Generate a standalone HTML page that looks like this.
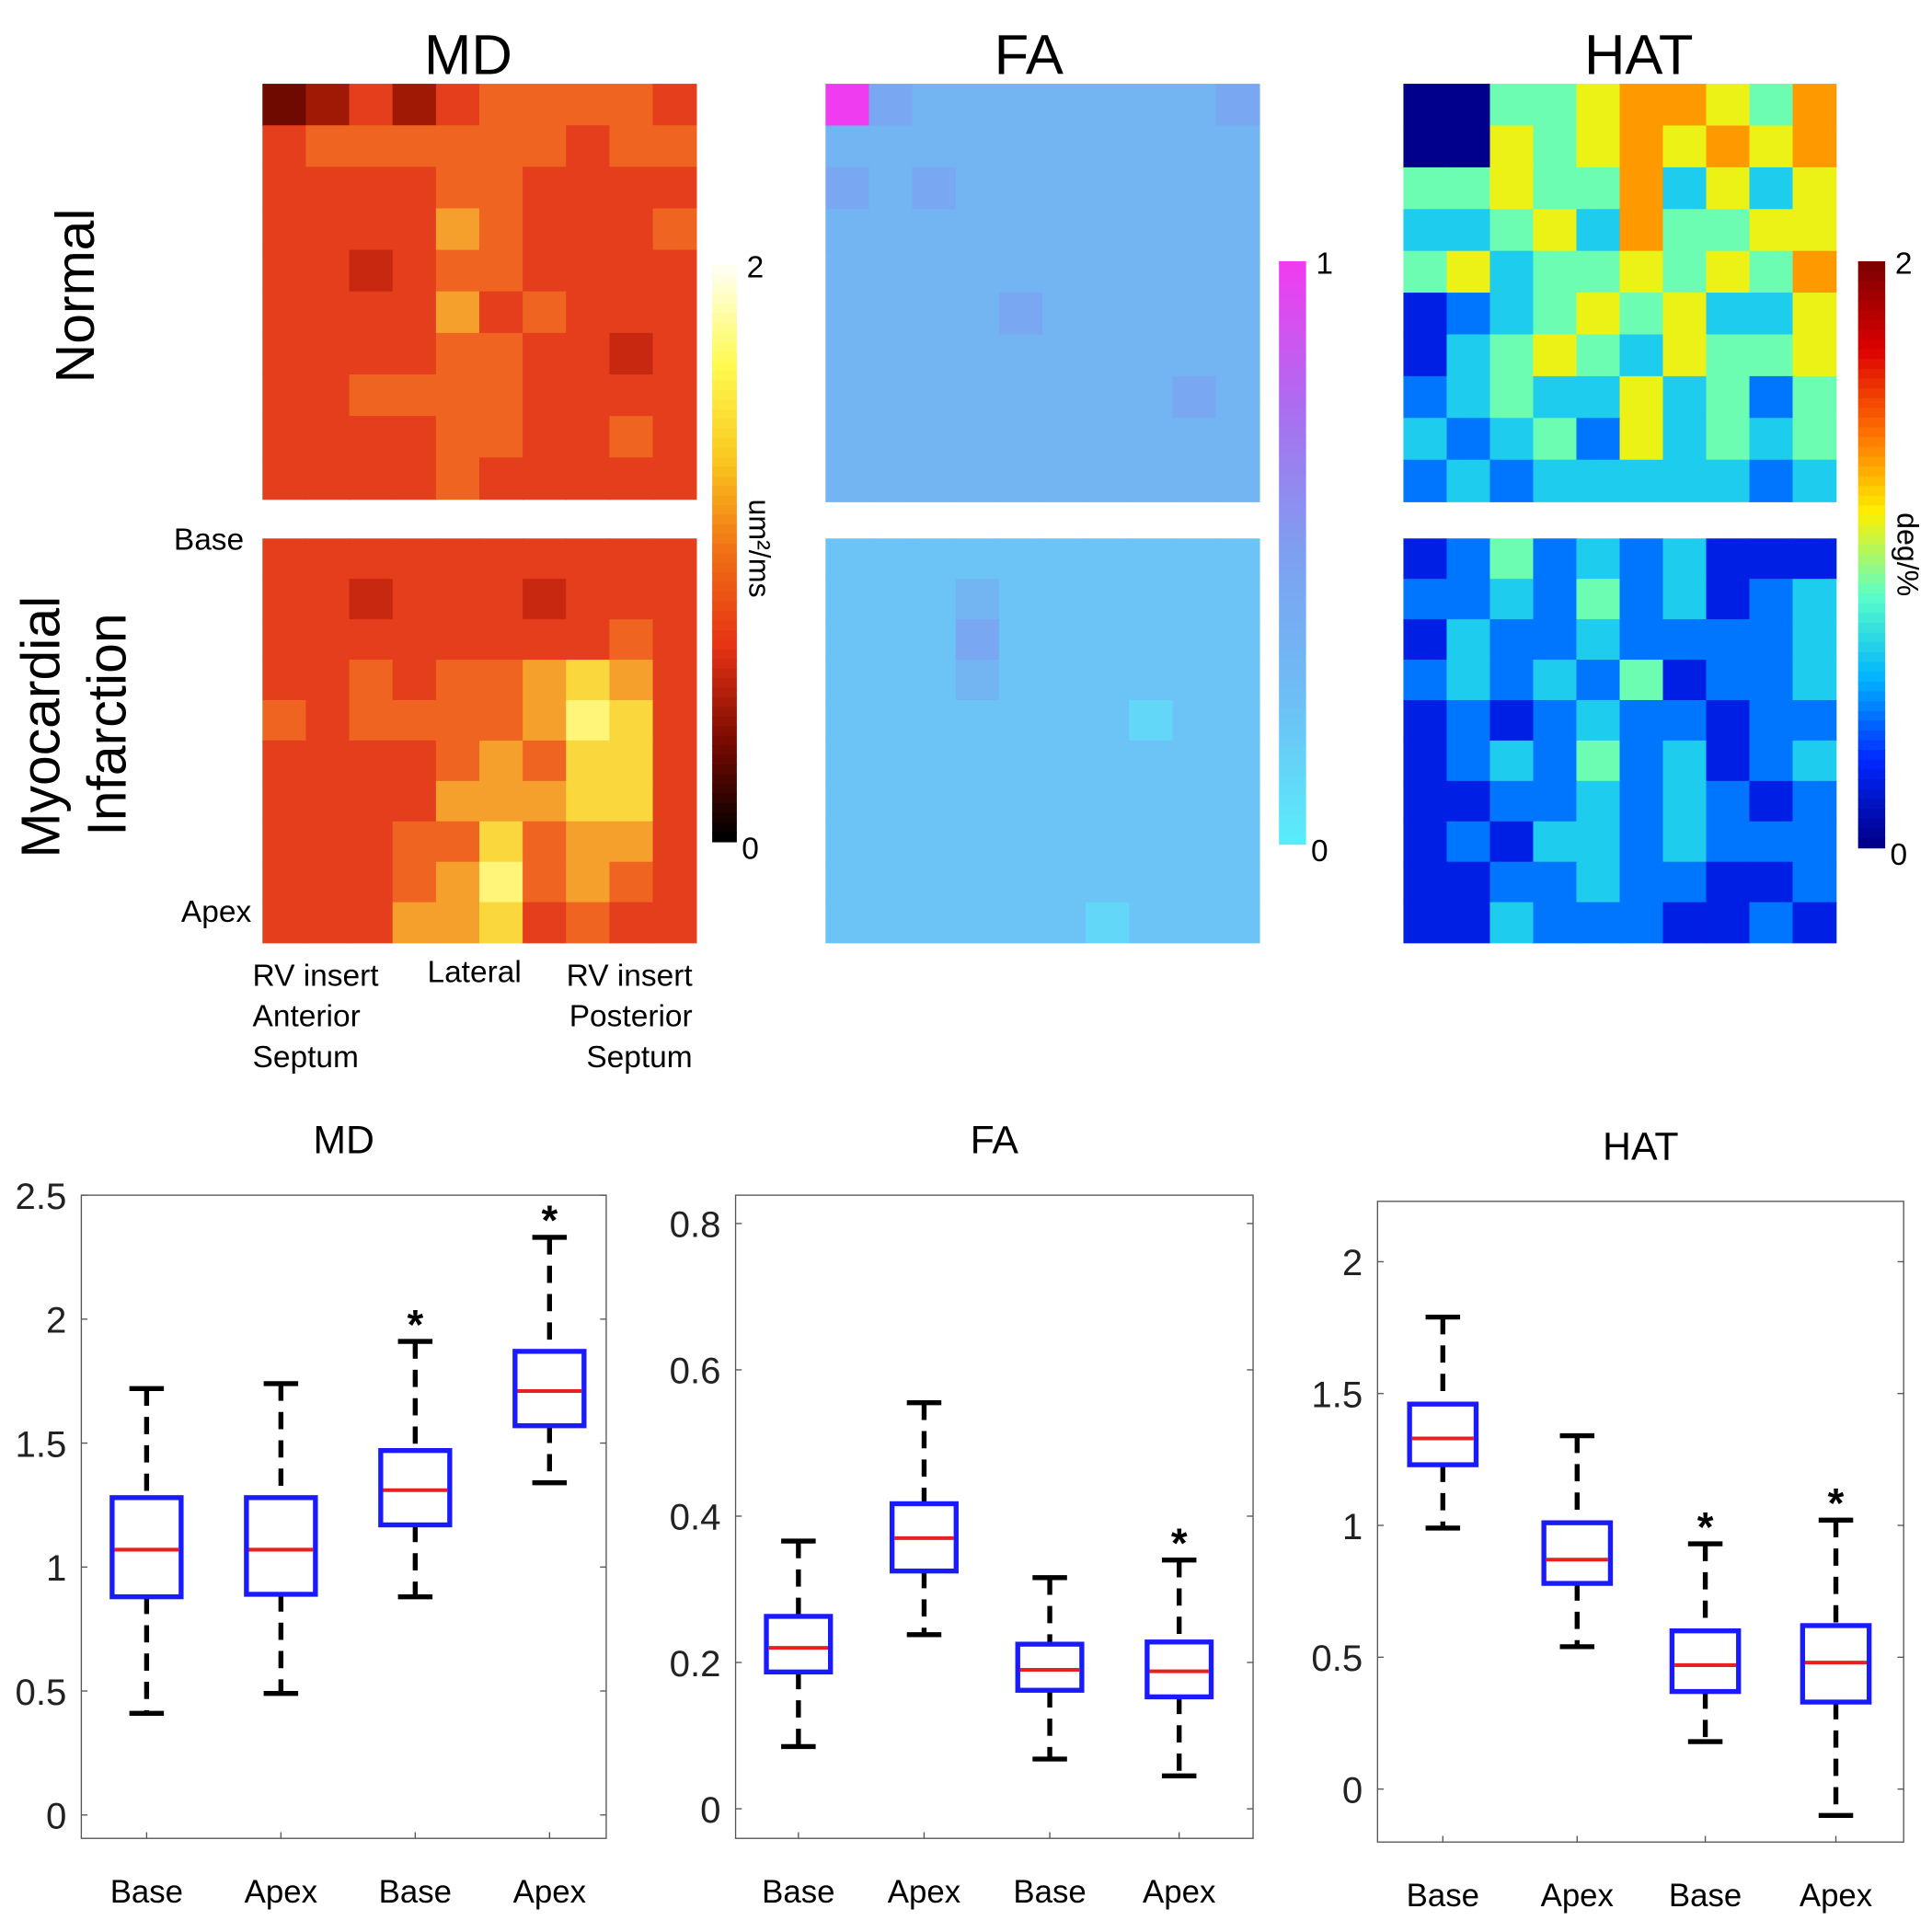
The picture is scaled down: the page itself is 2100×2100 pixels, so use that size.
<!DOCTYPE html>
<html><head><meta charset="utf-8">
<style>
html,body{margin:0;padding:0;background:#fff;}
svg{display:block;font-family:"Liberation Sans",Arial,sans-serif;}
</style></head>
<body>
<svg id="fig" width="2100" height="2100" viewBox="0 0 1568 1568" xmlns="http://www.w3.org/2000/svg">
<g id="maps"></g>
<g id="bars"></g>
<g id="box"></g>
<g fill="#000">
<text x="380" y="60" font-size="46" text-anchor="middle">MD</text>
<text x="835" y="60" font-size="46" text-anchor="middle">FA</text>
<text x="1330" y="60" font-size="46" text-anchor="middle">HAT</text>
<text transform="translate(76,240) rotate(-90)" font-size="44" text-anchor="middle">Normal</text>
<text transform="translate(48,590) rotate(-90)" font-size="44" text-anchor="middle">Myocardial</text>
<text transform="translate(102,588) rotate(-90)" font-size="44" text-anchor="middle">Infarction</text>
<text x="198" y="446" font-size="25" text-anchor="end">Base</text>
<text x="204" y="748" font-size="25" text-anchor="end">Apex</text>
<text font-size="25"><tspan x="205" y="800">RV insert</tspan><tspan x="205" y="833">Anterior</tspan><tspan x="205" y="866">Septum</tspan></text>
<text x="385" y="797" font-size="25" text-anchor="middle">Lateral</text>
<text font-size="25" text-anchor="end"><tspan x="562" y="800">RV insert</tspan><tspan x="562" y="833">Posterior</tspan><tspan x="562" y="866">Septum</tspan></text>
<text transform="translate(608,445) rotate(90)" font-size="24" text-anchor="middle">um²/ms</text>
<text transform="translate(1540,450) rotate(90)" font-size="24" text-anchor="middle">deg/%</text>
</g>
</svg>
<script>
// ---- heatmap data (coarse, 0..9 per cell) ----
const mdNormal=["2353566665","5666666566","5555665555","5555765556","5545665555","5555756555","5555665545","5566665555","5555665565","5555655555"];
const mdMI=["5555555555","5545554555","5555555565","5565667875","6566667985","5555676885","5555777885","5556686775","5556796765","5557785655"];
const faNormal=["9433333334","3333333333","4343333333","3333333333","3333333333","3333433333","3333333333","3333333343","3333333333","3333333333"];
const faMI=["2222222222","2223222222","2224222222","2223222222","2222222122","2222222222","2222222222","2222222222","2222222222","2222221222"];
const hatNormal=["0044566546","0054565656","4454463535","3345364455","4534454546","1234545335","1345435445","2343353424","3234253434","2323333323"];
const hatMI=["1242323111","2232423123","1322322223","2323241223","1212322122","1232423123","1122323212","1213323222","1122322112","1132221121"];
const mdTicks=[0,0.5,1,1.5,2,2.5];
const faTicks=[0,0.2,0.4,0.6,0.8];
const hatTicks=[0,0.5,1,1.5,2];
const xCats=["Base","Apex","Base","Apex"];
// box stats: max, q3, median, q1, min
const mdMax=[1.72,1.74,1.91,2.33], mdQ3=[1.28,1.28,1.47,1.87], mdMed=[1.07,1.07,1.31,1.71], mdQ1=[0.88,0.89,1.17,1.57], mdMin=[0.41,0.49,0.88,1.34];
const faMax=[0.366,0.555,0.316,0.34], faQ3=[0.263,0.417,0.225,0.228], faMed=[0.22,0.37,0.19,0.188], faQ1=[0.187,0.325,0.162,0.153], faMin=[0.085,0.238,0.068,0.045];
const hatMax=[1.79,1.34,0.93,1.02], hatQ3=[1.46,1.01,0.6,0.62], hatMed=[1.33,0.87,0.47,0.48], hatQ1=[1.23,0.78,0.37,0.33], hatMin=[0.99,0.54,0.18,-0.1];
const mdStars=[0,0,1,1], faStars=[0,0,0,1], hatStars=[0,0,1,1];

const NS="http://www.w3.org/2000/svg";
function mk(parent,tag,attrs){const e=document.createElementNS(NS,tag);for(const k in attrs)e.setAttribute(k,attrs[k]);parent.appendChild(e);return e;}
function lerp(a,b,t){return a.map((v,i)=>Math.round(v+(b[i]-v)*t));}
function ramp(stops,t){t=Math.max(0,Math.min(1,t));const n=stops.length-1;const i=Math.min(n-1,Math.floor(t*n));return lerp(stops[i],stops[i+1],t*n-i);}
const hot=t=>ramp([[0,0,0],[120,10,0],[230,50,20],[240,110,20],[250,200,30],[255,250,80],[255,255,240]],t);
const mdMap=t=>ramp([[0,0,0],[60,0,0],[110,10,0],[160,25,5],[200,40,15],[228,62,28],[238,100,32],[245,160,45],[250,215,60],[255,245,120]],t);
const cool=t=>ramp([[90,235,250],[110,190,245],[125,160,240],[170,110,240],[240,60,240]],t);
const jet=t=>ramp([[0,0,140],[0,40,255],[0,180,255],[90,255,200],[255,240,0],[255,110,0],[220,0,0],[128,0,0]],t);
const rgb=c=>`rgb(${c[0]},${c[1]},${c[2]})`;

const maps=document.getElementById('maps');
function heat(rows,cm,x,y,w,h,name){
  const g=mk(maps,'g',{});
  
  
  const nr=rows.length,nc=rows[0].length;
  rows.forEach((r,i)=>{[...r].forEach((ch,j)=>{
    const c=mk(g,'rect',{x:x+j*w/nc,y:y+i*h/nr,width:w/nc+0.6,height:h/nr+0.6,fill:rgb(cm(+ch/9))});
    
    
  });});
}
heat(mdNormal,mdMap,213,68,352,337,'md-normal-map');
heat(mdMI,mdMap,213,437,352,328,'md-mi-map');
heat(faNormal,cool,670,68,352,339,'fa-normal-map');
heat(faMI,cool,670,437,352,328,'fa-mi-map');
heat(hatNormal,jet,1139,68,351,339,'hat-normal-map');
heat(hatMI,jet,1139,437,351,328,'hat-mi-map');

const bars=document.getElementById('bars');
function cbar(cm,x,y,w,h,top,bot,name){
  const g=mk(bars,'g',{});
  
  
  const n=60;
  for(let i=0;i<n;i++){mk(g,'rect',{x:x,y:y+i*h/n,width:w,height:h/n+0.6,fill:rgb(cm(1-i/(n-1)))});}
  const t1=mk(g,'text',{x:x+w+8,y:y+10,'font-size':25});t1.textContent=top;
  const t2=mk(g,'text',{x:x+w+4,y:y+h+14,'font-size':25});t2.textContent=bot;
}
cbar(hot,578,215,20,468,'2','0','md-colorbar');
cbar(cool,1038,212,22,473,'1','0','fa-colorbar');
cbar(jet,1508,212,22,476,'2','0','hat-colorbar');

const box=document.getElementById('box');
function boxplot(o){
  const g=mk(box,'g',{});
  
  
  const Y=v=>o.y0+(v-o.v0)*(o.y1-o.y0)/(o.v1-o.v0);
  const frame=mk(g,'rect',{x:o.L,y:o.T,width:o.R-o.L,height:o.B-o.T,fill:'none',stroke:'#555','stroke-width':1});
  
  
  const tt=mk(g,'text',{x:(o.L+o.R)/2,y:o.T-34,'font-size':32,'text-anchor':'middle'});tt.textContent=o.title;
  o.ticks.forEach(t=>{const y=Y(t);
    mk(g,'line',{x1:o.L,x2:o.L+5,y1:y,y2:y,stroke:'#555'});
    mk(g,'line',{x1:o.R,x2:o.R-5,y1:y,y2:y,stroke:'#555'});
    const l=mk(g,'text',{x:o.L-12,y:y+11,'font-size':30,'text-anchor':'end',fill:'#222'});l.textContent=String(t);
    
    
  });
  o.xs.forEach((x,i)=>{
    mk(g,'line',{x1:x,x2:x,y1:o.B,y2:o.B-5,stroke:'#555'});
    const l=mk(g,'text',{x:x,y:o.B+52,'font-size':26,'text-anchor':'middle'});l.textContent=xCats[i];
    
    
    const w=o.bw/2;
    const wk=mk(g,'path',{d:`M${x},${Y(o.max[i])}V${Y(o.q3[i])}M${x},${Y(o.q1[i])}V${Y(o.min[i])}`,stroke:'#000','stroke-width':4,'stroke-dasharray':'14,9',fill:'none'});
    
    
    mk(g,'line',{x1:x-14,x2:x+14,y1:Y(o.max[i]),y2:Y(o.max[i]),stroke:'#000','stroke-width':4});
    mk(g,'line',{x1:x-14,x2:x+14,y1:Y(o.min[i]),y2:Y(o.min[i]),stroke:'#000','stroke-width':4});
    const b=mk(g,'rect',{x:x-w,y:Y(o.q3[i]),width:o.bw,height:Y(o.q1[i])-Y(o.q3[i]),fill:'none',stroke:'#1a1aff','stroke-width':4});
    
    
    const m=mk(g,'line',{x1:x-w+2,x2:x+w-2,y1:Y(o.med[i]),y2:Y(o.med[i]),stroke:'#e82020','stroke-width':3});
    
    
    if(o.stars[i]){const s=mk(g,'text',{x:x,y:Y(o.max[i])-2,'font-size':34,'font-weight':'bold','text-anchor':'middle'});s.textContent='*';
      
      }
  });
}
boxplot({name:'md-boxplot',title:'MD',L:66,R:492,T:970,B:1492,y0:1473,y1:970,v0:0,v1:2.5,ticks:mdTicks,xs:[119,228,337,446],bw:56,max:mdMax,q3:mdQ3,med:mdMed,q1:mdQ1,min:mdMin,stars:mdStars});
boxplot({name:'fa-boxplot',title:'FA',L:597,R:1017,T:970,B:1492,y0:1468,y1:993,v0:0,v1:0.8,ticks:faTicks,xs:[648,750,852,957],bw:52,max:faMax,q3:faQ3,med:faMed,q1:faQ1,min:faMin,stars:faStars});
boxplot({name:'hat-boxplot',title:'HAT',L:1118,R:1545,T:975,B:1495,y0:1452,y1:1024,v0:0,v1:2,ticks:hatTicks,xs:[1171,1280,1384,1490],bw:54,max:hatMax,q3:hatQ3,med:hatMed,q1:hatQ1,min:hatMin,stars:hatStars});
</script>
</body></html>
